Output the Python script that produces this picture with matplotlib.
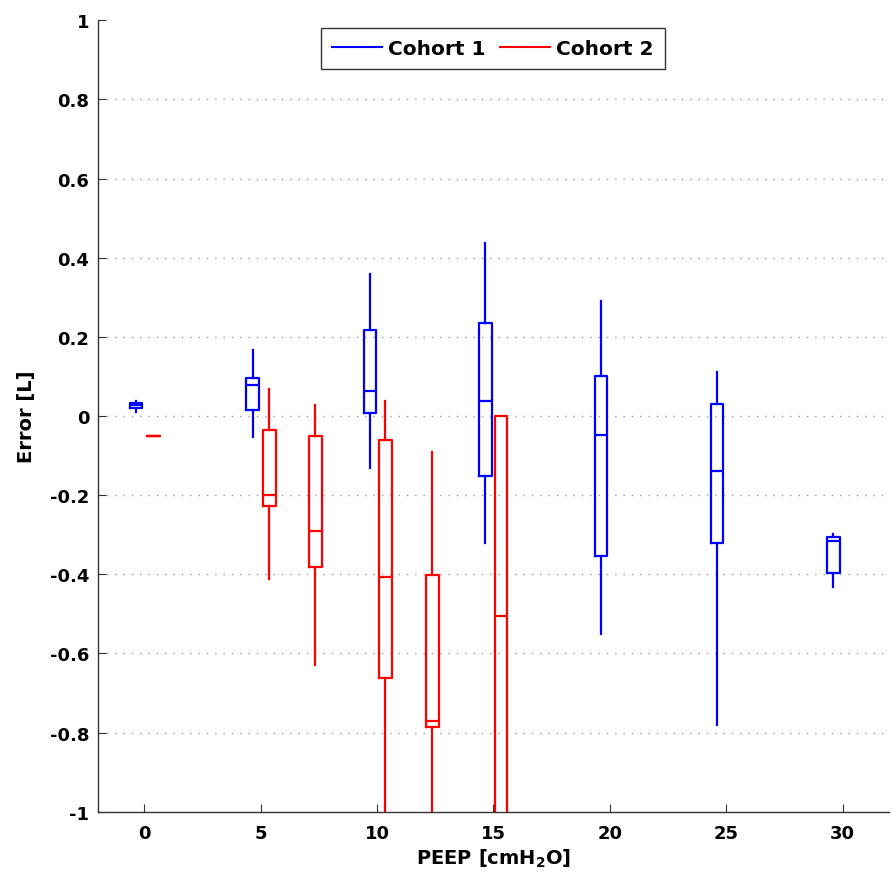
import matplotlib
matplotlib.use('Agg')
import matplotlib.pyplot as plt
from matplotlib.lines import Line2D

plt.rcParams['font.family'] = ['DejaVu Sans']
plt.rcParams['font.weight'] = 'bold'
plt.rcParams['mathtext.default'] = 'bf'

# Cohort 1 (blue) - box positions and five-number summaries
c1_pos = [-0.35, 4.65, 9.7, 14.65, 19.62, 24.6, 29.6]
c1_whislo = [0.011, -0.053, -0.131, -0.321, -0.550, -0.780, -0.431]
c1_q1 = [0.020, 0.015, 0.007, -0.152, -0.355, -0.321, -0.398]
c1_med = [0.028, 0.078, 0.063, 0.037, -0.049, -0.140, -0.316]
c1_q3 = [0.033, 0.095, 0.217, 0.234, 0.102, 0.030, -0.307]
c1_whishi = [0.039, 0.168, 0.359, 0.438, 0.290, 0.110, -0.298]

# Cohort 2 (red)
c2_pos = [0.4, 5.37, 7.35, 10.35, 12.37, 15.33]
c2_whislo = [-0.050, -0.411, -0.630, -1.30, -1.25, -1.50]
c2_q1 = [-0.050, -0.228, -0.381, -0.661, -0.785, -1.10]
c2_med = [-0.050, -0.200, -0.290, -0.408, -0.770, -0.505]
c2_q3 = [-0.050, -0.035, -0.051, -0.060, -0.403, 0.000]
c2_whishi = [-0.050, 0.068, 0.028, 0.038, -0.091, 0.000]

xticks = [0, 5, 10, 15, 20, 25, 30]
yticks = [-1, -0.8, -0.6, -0.4, -0.2, 0, 0.2, 0.4, 0.6, 0.8, 1]
ytick_labels = ['-1', '-0.8', '-0.6', '-0.4', '-0.2', '0', '0.2', '0.4', '0.6', '0.8', '1']


def make_stats(lo, q1, med, q3, hi):
    return [dict(whislo=a, q1=b, med=c, q3=d, whishi=e)
            for a, b, c, d, e in zip(lo, q1, med, q3, hi)]


fig = plt.figure(figsize=(8.91, 8.78), dpi=100, facecolor='white')
ax = fig.add_axes([0.1097, 0.0744, 0.8883, 0.9013])

for stats, pos, col in [
        (make_stats(c1_whislo, c1_q1, c1_med, c1_q3, c1_whishi), c1_pos, 'blue'),
        (make_stats(c2_whislo, c2_q1, c2_med, c2_q3, c2_whishi), c2_pos, 'red')]:
    lp = dict(color=col, linewidth=1.6)
    ax.bxp(stats, positions=pos, widths=0.54, showcaps=False, showfliers=False,
           boxprops=lp, whiskerprops=lp, medianprops=lp, manage_ticks=False)

ax.set_xlim(-2, 32)
ax.set_ylim(-1, 1)
ax.set_xticks(xticks)
ax.set_yticks(yticks)
ax.set_yticklabels(ytick_labels)

ax.spines['top'].set_visible(False)
ax.spines['right'].set_visible(False)
for s in ['left', 'bottom']:
    ax.spines[s].set_color('#333333')
    ax.spines[s].set_linewidth(1.0)

ax.tick_params(axis='both', direction='in', length=6, width=0.8,
               labelsize=13, colors='#333333', labelcolor='black')
ax.tick_params(axis='x', pad=9)
ax.tick_params(axis='y', pad=6)
for lab in ax.get_xticklabels() + ax.get_yticklabels():
    lab.set_fontweight('bold')

ax.yaxis.grid(True, linestyle=(0, (1, 5)), color='#999999', linewidth=1.0)
ax.set_axisbelow(True)
gl = ax.yaxis.get_gridlines()
gl[0].set_visible(False)
gl[-1].set_visible(False)

ax.set_xlabel(r'PEEP [cmH$_2$O]', fontsize=14, fontweight='bold', labelpad=3)
ax.set_ylabel('Error [L]', fontsize=14, fontweight='bold', labelpad=10)

handles = [Line2D([], [], color='blue', lw=1.5), Line2D([], [], color='red', lw=1.5)]
leg = ax.legend(handles, ['Cohort 1', 'Cohort 2'], loc='upper center',
                bbox_to_anchor=(0.499, 0.99), borderaxespad=0, ncol=2,
                fancybox=False, framealpha=1, edgecolor='#333333',
                handlelength=2.5, columnspacing=0.7, handletextpad=0.3,
                borderpad=0.55, prop={'size': 14.5, 'weight': 'bold'})
leg.get_frame().set_linewidth(1.0)

fig.savefig('out.png', dpi=100, facecolor='white')
